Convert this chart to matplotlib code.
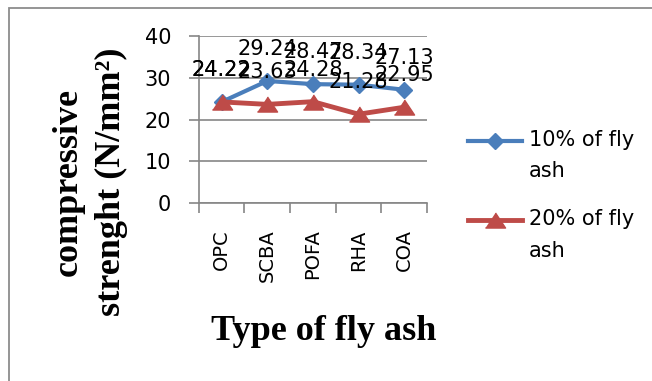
import matplotlib
matplotlib.use("Agg")
import matplotlib.pyplot as plt
from matplotlib.patches import Rectangle

# data
categories = ["OPC", "SCBA", "POFA", "RHA", "COA"]
fly_ash_10 = [24.22, 29.24, 28.47, 28.34, 27.13]
fly_ash_20 = [24.22, 23.63, 24.28, 21.28, 22.95]
series_labels = ["10% of fly\nash", "20% of fly\nash"]

blue = "#4A7EBB"
red = "#BE4B48"
grey = "#868686"

fig = plt.figure(figsize=(6.52, 3.81), dpi=100)
ax = fig.add_axes([0.305, 0.467, 0.35, 0.4385])

# outer chart frame (top and left edges visible)
fig.patches.append(Rectangle((9 / 652, -0.05), 1.1, 1 - 8 / 381 + 0.05,
                             transform=fig.transFigure, fill=False,
                             edgecolor="#8c8c8c", linewidth=1.3))

x = range(len(categories))
tri = [(-1, -0.75), (1, -0.75), (0, 0.75)]
l1, = ax.plot(x, fly_ash_10, color=blue, lw=3, marker="D", ms=8.5,
              label=" \n" + series_labels[0], zorder=3)
l2, = ax.plot(x, fly_ash_20, color=red, lw=3.5, marker=tri, ms=14.5,
              label=" \n" + series_labels[1], zorder=4)

# data labels
for vals in (fly_ash_10, fly_ash_20):
    for i, v in enumerate(vals):
        ax.annotate(f"{v:.2f}", (i, v), xytext=(0, 23), textcoords="offset points",
                    ha="center", va="center", fontsize=15, color="black", zorder=5)

ax.set_ylim(0, 40)
ax.set_yticks([0, 10, 20, 30, 40])
ax.set_xlim(-0.5, len(categories) - 0.5)
ax.set_xticks(list(x))
ax.set_xticklabels(categories, rotation=90, va="top", fontsize=14)
ax.set_xticks([i - 0.5 for i in range(len(categories) + 1)], minor=True)
ax.tick_params(axis="x", which="major", length=0, pad=19)
ax.tick_params(axis="x", which="minor", length=7, color=grey, width=1.2)
ax.tick_params(axis="y", length=7, color=grey, width=1.2, labelsize=15, pad=13)
ax.yaxis.grid(True, color=grey, linewidth=1.2)
ax.set_axisbelow(True)
for s in ("top", "right"):
    ax.spines[s].set_visible(False)
for s in ("left", "bottom"):
    ax.spines[s].set_color(grey)
    ax.spines[s].set_linewidth(1.2)

# axis titles
fig.text(0.138, 0.522, "compressive\nstrenght (N/mm²)", rotation=90,
         ha="center", va="center", multialignment="center",
         fontfamily="Liberation Serif", fontweight="bold", fontsize=26,
         linespacing=1.42)
fig.text(0.497, 0.131, "Type of fly ash", ha="center", va="center",
         fontfamily="Liberation Serif", fontweight="bold", fontsize=26)

leg = fig.legend(handles=[l1, l2], loc="center left", bbox_to_anchor=(0.718, 0.528),
                 frameon=False, fontsize=15, handlelength=2.6, handletextpad=0.3,
                 borderpad=0, borderaxespad=0, labelspacing=-0.15)
for t in leg.get_texts():
    t.set_linespacing(1.7)

fig.savefig("out.png", dpi=100)
